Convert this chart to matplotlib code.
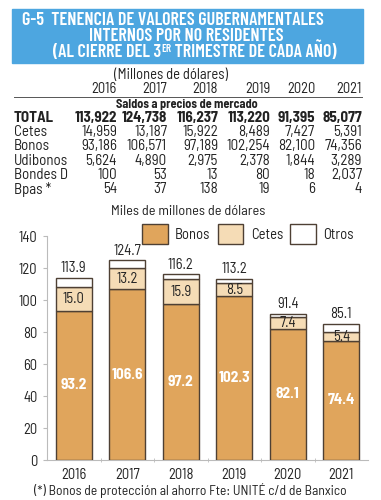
import numpy as np
import matplotlib
matplotlib.use("Agg")
import matplotlib.pyplot as plt
from matplotlib.patches import Rectangle
from matplotlib.lines import Line2D

# datos
years = ["2016", "2017", "2018", "2019", "2020", "2021"]
total_mdd = ["113,922", "124,738", "116,237", "113,220", "91,395", "85,077"]
table_rows = ["Cetes", "Bonos", "Udibonos", "Bondes D", "Bpas *"]
table_vals = [
    ["14,959", "13,187", "15,922", "8,489", "7,427", "5,391"],
    ["93,186", "106,571", "97,189", "102,254", "82,100", "74,356"],
    ["5,624", "4,890", "2,975", "2,378", "1,844", "3,289"],
    ["100", "53", "13", "80", "18", "2,037"],
    ["54", "37", "138", "19", "6", "4"],
]
bonos = [93.2, 106.6, 97.2, 102.3, 82.1, 74.4]
cetes = [15.0, 13.2, 15.9, 8.5, 7.4, 5.4]
total = [113.9, 124.7, 116.2, 113.2, 91.4, 85.1]
yticks = [0, 20, 40, 60, 80, 100, 120, 140]

FONT = ["Barlow Semi Condensed", "DejaVu Sans"]
TFONT = ["Barlow Condensed", "DejaVu Sans"]
plt.rcParams["font.family"] = FONT

C_BONOS = "#e0a55c"
C_CETES = "#f5dcb6"
C_OTROS = "#ffffff"
EDGE = "#4e4034"
BLUE = "#4da6e0"
TXT = "#222222"

fig = plt.figure(figsize=(3.81, 5.0), dpi=100)
renderer = fig.canvas.get_renderer()

def px(x, y):
    # pixel coords -> figure fraction
    return x / 381.0, 1 - y / 500.0

# ---- titulo
fig.patches.append(Rectangle(px(12, 63), 351 / 381.0, 54 / 500.0,
                             transform=fig.transFigure, color=BLUE, zorder=0))
tkw = dict(color="white", fontweight="semibold", family=TFONT, ha="left", va="baseline")
fig.text(*px(22, 25), "G-5  TENENCIA DE VALORES GUBERNAMENTALES", fontsize=13, **tkw)
fig.text(*px(89, 41), "INTERNOS POR NO RESIDENTES", fontsize=13, **tkw)
# linea 3 en piezas para el superindice "ER"
xx = 53
for piece, fs, dy in [("(AL CIERRE DEL 3", 13, 0), ("ER", 8, -5), (" TRIMESTRE DE CADA AÑO)", 13, 0)]:
    t = fig.text(*px(xx, 57 + dy), piece, fontsize=fs, **tkw)
    xx += t.get_window_extent(renderer).width

# ---- tabla
col_x = [117, 167, 218, 270, 315, 362]
fig.text(*px(171, 75), "(Millones de dólares)", fontsize=10.5, color=TXT, ha="center", va="center")
for x, yr in zip(col_x, years):
    fig.text(*px(x, 89), yr, fontsize=10.5, color=TXT, ha="right", va="center")
fig.lines.append(Line2D([14 / 381.0, 362 / 381.0], [1 - 97 / 500.0] * 2,
                        transform=fig.transFigure, color="#555555", lw=0.7))
fig.text(*px(187, 104), "Saldos a precios de mercado", fontsize=8.8, fontweight="bold",
         color=TXT, ha="center", va="center")
fig.text(*px(14, 118), "TOTAL", fontsize=10.8, fontweight="bold", color=TXT, ha="left", va="center")
for x, v in zip(col_x, total_mdd):
    fig.text(*px(x, 118), v, fontsize=10.8, fontweight="bold", color=TXT, ha="right", va="center")
for i, (name, vals) in enumerate(zip(table_rows, table_vals)):
    y = 132 + i * 14.3
    fig.text(*px(14, y), name, fontsize=10.8, color=TXT, ha="left", va="center")
    for x, v in zip(col_x, vals):
        fig.text(*px(x, y), v, fontsize=10.8, color=TXT, ha="right", va="center")

# ---- grafica
ax = fig.add_axes([47 / 381.0, 0.08, 321 / 381.0, 0.448])
x = np.arange(len(years))
otros = [t - b - c for t, b, c in zip(total, bonos, cetes)]
cb = [b + c for b, c in zip(bonos, cetes)]
w = 0.67
ax.bar(x, bonos, w, color=C_BONOS, edgecolor=EDGE, linewidth=1, label="Bonos", zorder=3)
ax.bar(x, cetes, w, bottom=bonos, color=C_CETES, edgecolor=EDGE, linewidth=1, label="Cetes", zorder=3)
ax.bar(x, otros, w, bottom=cb, color=C_OTROS, edgecolor=EDGE, linewidth=1, label="Otros", zorder=3)

for i in range(len(years)):
    ax.text(x[i], bonos[i] / 2, f"{bonos[i]:.1f}", color="white", fontsize=11,
            fontweight="bold", ha="center", va="center", zorder=4)
    ax.text(x[i], bonos[i] + cetes[i] / 2, f"{cetes[i]:.1f}", color=TXT, fontsize=10.5,
            ha="center", va="center", zorder=4)
    ax.text(x[i], total[i] + 1.5, f"{total[i]:.1f}", color=TXT, fontsize=10.5,
            ha="center", va="bottom", zorder=4)

ax.set_xlim(-0.5, len(years) - 0.5)
ax.set_ylim(0, 140)
ax.set_yticks(yticks)
ax.set_yticklabels([str(t) for t in yticks], fontsize=10.5, color=TXT)
ax.set_xticks(x)
ax.set_xticklabels(years, fontsize=10.5, color=TXT)
ax.tick_params(axis="x", length=0, pad=6)
ax.set_xticks(x[:-1] + 0.5, minor=True)
ax.tick_params(axis="x", which="minor", length=3, color="#bbbbbb", direction="inout")
ax.tick_params(axis="y", length=3, color="#bbbbbb", pad=4)
for s in ["top", "right"]:
    ax.spines[s].set_visible(False)
for s in ["left", "bottom"]:
    ax.spines[s].set_color("#bbbbbb")
    ax.spines[s].set_linewidth(0.8)

fig.text(*px(188, 212), "Miles de millones de dólares", fontsize=10.3, color=TXT,
         ha="center", va="center")
fig.legend(loc="center", bbox_to_anchor=px(248, 234), ncol=3, frameon=False,
           fontsize=10.5, handlelength=1.75, handleheight=1.7, handletextpad=0.5,
           columnspacing=0.5, labelcolor=TXT)

fig.text(*px(190, 490), "(*) Bonos de protección al ahorro Fte: UNITÉ c/d de Banxico",
         fontsize=9.8, color=TXT, ha="center", va="center")

fig.savefig("out.png", dpi=100)
